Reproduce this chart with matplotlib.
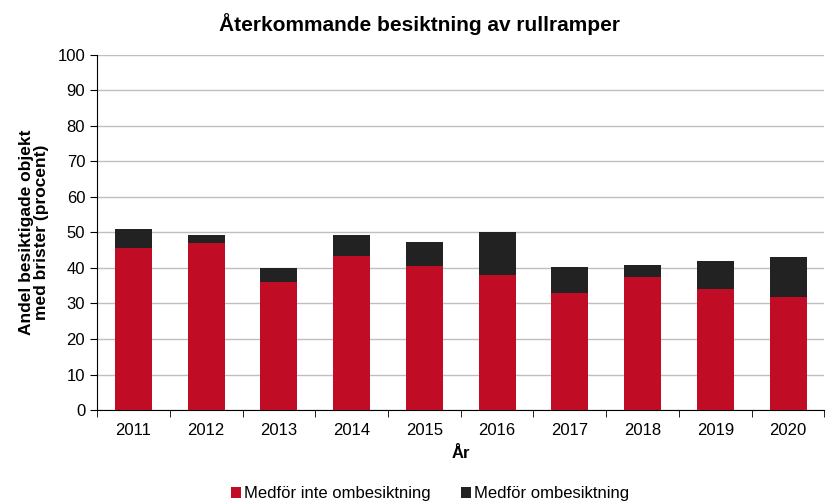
import numpy as np
import matplotlib
matplotlib.use('Agg')
import matplotlib.pyplot as plt

plt.rcParams['font.family'] = ['Liberation Sans', 'DejaVu Sans']

years = ['2011', '2012', '2013', '2014', '2015', '2016', '2017', '2018', '2019', '2020']
# andel som inte medför ombesiktning
inte_omb = [45.7, 47.1, 36.0, 43.4, 40.7, 38.0, 32.9, 37.5, 34.0, 31.8]
# totalt med brister
totalt = [50.9, 49.2, 40.1, 49.2, 47.4, 50.0, 40.3, 40.8, 42.0, 43.0]
omb = [t - a for t, a in zip(totalt, inte_omb)]

red = '#C00D25'
dark = '#222222'

fig = plt.figure(figsize=(8.38, 5.04), dpi=100)
ax = fig.add_axes([0.1158, 0.1865, 0.868, 0.7044])

x = np.arange(len(years))
ax.bar(x, inte_omb, width=0.51, color=red, label='Medför inte ombesiktning', zorder=3)
ax.bar(x, omb, width=0.51, bottom=inte_omb, color=dark, label='Medför ombesiktning', zorder=3)

ax.set_xlim(-0.5, len(years) - 0.5)
ax.set_ylim(0, 100)
ax.set_yticks(range(0, 101, 10))
ax.yaxis.grid(True, color='#BFBFBF', linewidth=1.0, zorder=0)
ax.set_axisbelow(True)

ax.set_xticks(x)
ax.set_xticklabels(years, fontsize=12)
ax.tick_params(axis='x', length=0, pad=9)
ax.set_xticks(np.arange(-0.5, len(years)), minor=True)
ax.tick_params(axis='x', which='minor', length=5, direction='out', color='black')
ax.tick_params(axis='y', labelsize=12, length=5, direction='out')

for s in ['top', 'right']:
    ax.spines[s].set_visible(False)
ax.spines['left'].set_color('black')
ax.spines['bottom'].set_color('black')

ax.set_xlabel('År', fontsize=12, fontweight='bold', labelpad=6)
ax.set_ylabel('Andel besiktigade objekt\nmed brister (procent)', fontsize=12.5, fontweight='bold',
              labelpad=6, linespacing=1.0)
fig.suptitle('Återkommande besiktning av rullramper', fontsize=15, fontweight='bold', y=0.975)

fig.legend(*ax.get_legend_handles_labels(), loc='center', bbox_to_anchor=(0.513, 0.02), ncol=2,
           frameon=False, fontsize=12, handlelength=0.6, handleheight=0.6,
           columnspacing=1.8, handletextpad=0.2)

fig.savefig('out.png', dpi=100)
